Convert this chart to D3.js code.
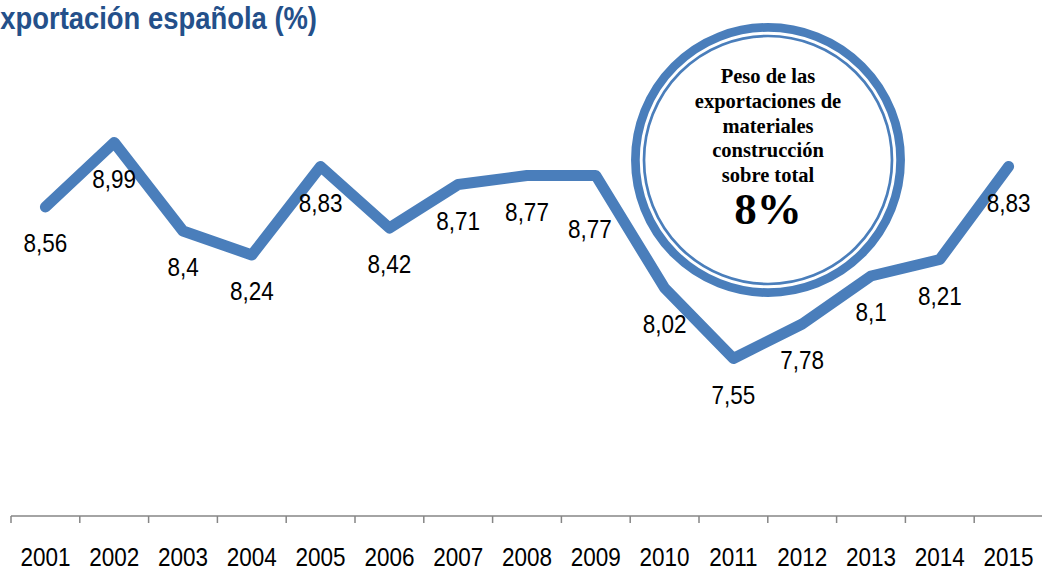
<!DOCTYPE html>
<html>
<head>
<meta charset="utf-8" />
<title>Exportación española</title>
<script src="https://cdn.jsdelivr.net/npm/d3@7/dist/d3.min.js"></script>
<style>
  body { margin: 0; background: #fff; }
  svg { display: block; }
</style>
</head>
<body>
<script>

var years = ["2001","2002","2003","2004","2005","2006","2007","2008","2009","2010","2011","2012","2013","2014","2015"];
var share = [8.56, 8.99, 8.4, 8.24, 8.83, 8.42, 8.71, 8.77, 8.77, 8.02, 7.55, 7.78, 8.1, 8.21, 8.83];
var boxLines = ["Peso de las", "exportaciones de", "materiales", "construcción", "sobre total"];
var boxValue = "8%";

var W = 1042, H = 572;
var blue = "#4a7ebb";
var numFont = "'Liberation Sans', Arial, sans-serif";

var svg = d3.select("body").append("svg")
	.attr("width", W)
	.attr("height", H);

var x = d3.scaleBand().domain(years).range([11, 1043]);
var y = d3.scaleLinear().domain([6.5, 9.5]).range([516, 66]);
var cx = function(d){ return x(d) + x.bandwidth() / 2; };

// title (cut off on the left like the original)
svg.append("text")
	.attr("x", -15)
	.attr("y", 29)
	.attr("fill", "#24508a")
	.attr("font-family", "'Liberation Sans Narrow', 'Liberation Sans', Arial, sans-serif")
	.attr("font-weight", "bold")
	.attr("font-size", "32px")
	.attr("textLength", 332)
	.attr("lengthAdjust", "spacingAndGlyphs")
	.text("exportación española (%)");

// category axis with ticks between the years
svg.append("line")
	.attr("x1", x.range()[0]).attr("x2", W)
	.attr("y1", 516).attr("y2", 516)
	.attr("stroke", "#868686").attr("stroke-width", 1.5);

svg.selectAll(".tick")
	.data(years)
	.enter()
	.append("line")
	.attr("class", "tick")
	.attr("x1", function(d){ return x(d); })
	.attr("x2", function(d){ return x(d); })
	.attr("y1", 516).attr("y2", 523)
	.attr("stroke", "#868686").attr("stroke-width", 1.5);

// numbers in the original are slightly condensed, so squeeze them a bit
svg.selectAll(".year")
	.data(years)
	.enter()
	.append("text")
	.attr("class", "year")
	.attr("transform", function(d){ return "translate(" + cx(d) + ",566) scale(0.9,1)"; })
	.attr("text-anchor", "middle")
	.attr("font-family", numFont)
	.attr("font-size", "25px")
	.attr("fill", "#000")
	.text(function(d){ return d; });

// the line
var line = d3.line()
	.x(function(d, i){ return cx(years[i]); })
	.y(function(d){ return y(d); });

svg.append("path")
	.datum(share)
	.attr("d", line)
	.attr("fill", "none")
	.attr("stroke", blue)
	.attr("stroke-width", 11)
	.attr("stroke-linejoin", "round")
	.attr("stroke-linecap", "round");

// value labels, below each point
var nudge = { "2009": [-6, 17] };
svg.selectAll(".val")
	.data(share)
	.enter()
	.append("text")
	.attr("class", "val")
	.attr("transform", function(d, i){
		var n = nudge[years[i]] || [0, 0];
		return "translate(" + (cx(years[i]) + n[0]) + "," + (y(d) + 45 + n[1]) + ") scale(0.9,1)";
	})
	.attr("text-anchor", "middle")
	.attr("font-family", numFont)
	.attr("font-size", "25px")
	.attr("fill", "#000")
	.text(function(d){ return String(d).replace(".", ","); });

// circle callout
var c = svg.append("g").attr("transform", "translate(768,160)");
c.append("circle").attr("r", 132.6).attr("fill", "#fff")
	.attr("stroke", blue).attr("stroke-width", 8.7);
c.append("circle").attr("r", 124).attr("fill", "none")
	.attr("stroke", blue).attr("stroke-width", 2.7);

c.selectAll(".bl")
	.data(boxLines)
	.enter()
	.append("text")
	.attr("class", "bl")
	.attr("x", 0)
	.attr("y", function(d, i){ return -77 + i * 24.8; })
	.attr("text-anchor", "middle")
	.attr("font-family", "'Liberation Serif', 'Times New Roman', serif")
	.attr("font-weight", "bold")
	.attr("font-size", "20.5px")
	.attr("fill", "#000")
	.text(function(d){ return d; });

c.append("text")
	.attr("x", 0)
	.attr("y", 64)
	.attr("text-anchor", "middle")
	.attr("font-family", "'Liberation Serif', 'Times New Roman', serif")
	.attr("font-weight", "bold")
	.attr("font-size", "45px")
	.attr("fill", "#000")
	.text(boxValue);

</script>
</body>
</html>
